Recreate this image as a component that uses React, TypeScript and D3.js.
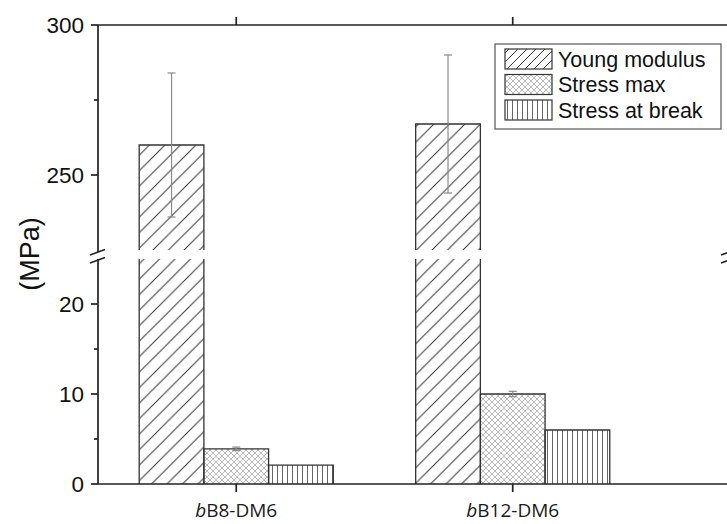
import * as d3 from "d3";

const categories = ["bB8-DM6", "bB12-DM6"];
const seriesNames = ["Young modulus", "Stress max", "Stress at break"];
const youngModulus = [260, 267];
const youngModulusErr = [24, 23];
const stressMax = [3.9, 10.0];
const stressMaxErr = [0.2, 0.3];
const stressBreak = [2.1, 6.0];
const stressBreakErr = [0, 0];

const upperTicks = [250, 300];
const upperMinor = [275];
const lowerTicks = [0, 10, 20];
const lowerMinor = [5, 15];

const seriesValues = [youngModulus, stressMax, stressBreak];
const seriesErrors = [youngModulusErr, stressMaxErr, stressBreakErr];
const patternIds = ["pDiag", "pCross", "pVert"];
const legendPatternIds = ["pDiagSmall", "pCross", "pVert"];

const W = 727;
const H = 524;
const left = 98;
const right = 729;
const top = 25;
const bottom = 484;

const x = d3.scaleLinear().domain([0.5, 2.775]).range([left, 727]);
const yTop = d3.scaleLinear().domain([225, 300]).range([250, top]);
const yBot = d3.scaleLinear().domain([0, 25]).range([bottom, 259]);
const yAny = (v: number) => (v >= 225 ? yTop(v) : yBot(v));
const barW = x(0.734) - x(0.5);

const font = "'Liberation Sans', Arial, sans-serif";

function Bar({ cx, v, pat }: { cx: number; v: number; pat: string }) {
  const l = cx - barW / 2;
  const r = cx + barW / 2;
  const lowTop = yBot(Math.min(v, 25));
  const lowPath =
    v <= 25
      ? `M${l},${bottom}V${lowTop}H${r}V${bottom}`
      : `M${l},${bottom}V${yBot(25)}M${r},${yBot(25)}V${bottom}`;
  return (
    <g>
      <rect x={l} y={lowTop} width={barW} height={bottom - lowTop} fill={`url(#${pat})`} />
      <path d={lowPath} fill="none" stroke="#333" strokeWidth={1.3} />
      {v > 225 && (
        <>
          <rect x={l} y={yTop(v)} width={barW} height={yTop(225) - yTop(v)} fill={`url(#${pat})`} />
          <path
            d={`M${l},${yTop(225)}V${yTop(v)}H${r}V${yTop(225)}`}
            fill="none"
            stroke="#333"
            strokeWidth={1.3}
          />
        </>
      )}
    </g>
  );
}

export default function App() {
  const d = 15.5;
  const ds = 9;
  return (
    <svg
      width={W}
      height={H}
      style={{ position: "absolute", left: 0, top: 0, background: "#fff" }}
    >
      <defs>
        <pattern id="pDiag" patternUnits="userSpaceOnUse" width={d} height={d}>
          <path
            d={`M0,${d}L${d},0M${-d / 2},${d / 2}L${d / 2},${-d / 2}M${d / 2},${d * 1.5}L${d * 1.5},${d / 2}`}
            stroke="#333"
            strokeWidth={1}
          />
        </pattern>
        <pattern id="pDiagSmall" patternUnits="userSpaceOnUse" width={ds} height={ds}>
          <path
            d={`M0,${ds}L${ds},0M${-ds / 2},${ds / 2}L${ds / 2},${-ds / 2}M${ds / 2},${ds * 1.5}L${ds * 1.5},${ds / 2}`}
            stroke="#333"
            strokeWidth={1}
          />
        </pattern>
        <pattern id="pCross" patternUnits="userSpaceOnUse" width={6} height={6}>
          <path d="M0,0L6,6M0,6L6,0" stroke="#aaa" strokeWidth={0.8} />
        </pattern>
        <pattern id="pVert" patternUnits="userSpaceOnUse" width={5} height={5}>
          <path d="M2.5,0V5" stroke="#555" strokeWidth={0.9} />
        </pattern>
      </defs>

      {/* bars */}
      {categories.map((c, i) =>
        seriesValues.map((vals, j) => (
          <Bar key={`${c}-${j}`} cx={x(i + 1) + (j - 1) * barW} v={vals[i]} pat={patternIds[j]} />
        ))
      )}

      {/* error bars */}
      {categories.map((c, i) =>
        seriesValues.map((vals, j) => {
          const e = seriesErrors[j][i];
          if (!e) return null;
          const cx = x(i + 1) + (j - 1) * barW;
          const y1 = yAny(vals[i] + e);
          const y2 = yAny(vals[i] - e);
          return (
            <g key={`e-${c}-${j}`} stroke="#8a8a8a" strokeWidth={1.2}>
              <line x1={cx} x2={cx} y1={y1} y2={y2} />
              <line x1={cx - 4} x2={cx + 4} y1={y1} y2={y1} />
              <line x1={cx - 4} x2={cx + 4} y1={y2} y2={y2} />
            </g>
          );
        })
      )}

      {/* axes */}
      <g stroke="#222" strokeWidth={1.7} fill="none">
        <line x1={left} x2={right} y1={bottom} y2={bottom} />
        <line x1={left} x2={right} y1={top} y2={top} />
        <line x1={left} x2={left} y1={top} y2={252} />
        <line x1={left} x2={left} y1={259} y2={bottom} />
        <line x1={right} x2={right} y1={top} y2={252} />
        <line x1={right} x2={right} y1={259} y2={bottom} />
        {[left, right].map((ax) => (
          <g key={ax}>
            <line x1={ax - 8} y1={255} x2={ax + 7} y2={249.5} />
            <line x1={ax - 8} y1={263} x2={ax + 7} y2={257.5} />
          </g>
        ))}
        {categories.map((c, i) => (
          <g key={c}>
            <line x1={x(i + 1)} x2={x(i + 1)} y1={bottom} y2={bottom + 8} />
            <line x1={x(i + 1)} x2={x(i + 1)} y1={top} y2={top - 8} />
          </g>
        ))}
        {upperTicks.map((t) => (
          <line key={`ut${t}`} x1={left - 7} x2={left} y1={yTop(t)} y2={yTop(t)} />
        ))}
        {upperMinor.map((t) => (
          <line key={`um${t}`} x1={left - 4} x2={left} y1={yTop(t)} y2={yTop(t)} />
        ))}
        {lowerTicks.map((t) => (
          <line key={`lt${t}`} x1={left - 7} x2={left} y1={yBot(t)} y2={yBot(t)} />
        ))}
        {lowerMinor.map((t) => (
          <line key={`lm${t}`} x1={left - 4} x2={left} y1={yBot(t)} y2={yBot(t)} />
        ))}
      </g>

      {/* tick labels */}
      <g fontFamily={font} fontSize={22.5} fill="#111" textAnchor="end">
        {upperTicks.map((t) => (
          <text key={`ul${t}`} x={84} y={yTop(t)} dy="0.36em">
            {t}
          </text>
        ))}
        {lowerTicks.map((t) => (
          <text key={`ll${t}`} x={84} y={yBot(t)} dy="0.36em">
            {t}
          </text>
        ))}
      </g>

      {/* category labels */}
      <g fontFamily="'Open Sans', sans-serif" fontSize={19} fill="#1a1a1a" textAnchor="middle">
        {categories.map((c, i) => (
          <text key={c} x={x(i + 1)} y={517}>
            <tspan fontStyle="italic">{c[0]}</tspan>
            {c.slice(1)}
          </text>
        ))}
      </g>

      {/* y label */}
      <text
        transform="translate(39,254) rotate(-90)"
        textAnchor="middle"
        fontFamily={font}
        fontSize={27}
        fill="#111"
      >
        (MPa)
      </text>

      {/* legend */}
      <rect x={495} y={44} width={226} height={85} fill="#fff" stroke="#555" strokeWidth={1.2} />
      {seriesNames.map((s, j) => {
        const ly = 49 + j * 25.5;
        return (
          <g key={s}>
            <rect
              x={505}
              y={ly}
              width={47}
              height={20}
              fill={`url(#${legendPatternIds[j]})`}
              stroke="#333"
              strokeWidth={1.2}
            />
            <text x={558} y={ly + 10} dy="0.36em" fontFamily={font} fontSize={21.5} fill="#111">
              {s}
            </text>
          </g>
        );
      })}
    </svg>
  );
}
